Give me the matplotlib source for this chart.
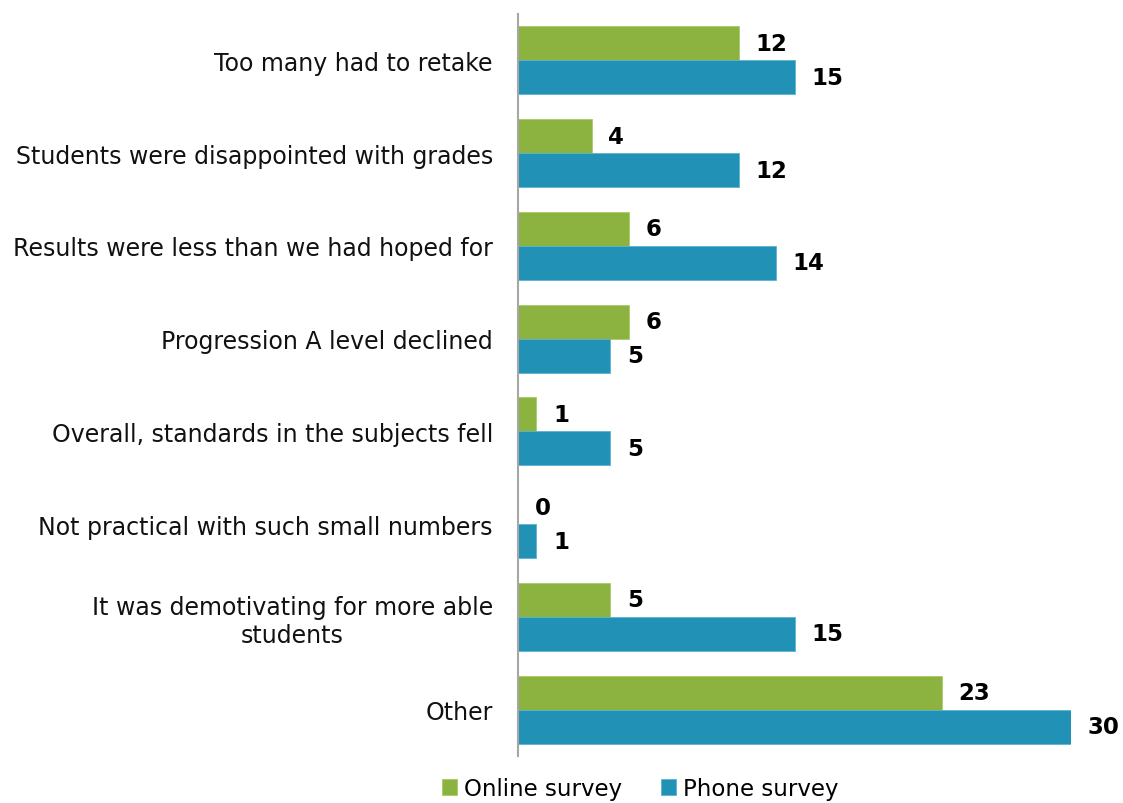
import matplotlib.pyplot as plt
import numpy as np

categories = [
    "Too many had to retake",
    "Students were disappointed with grades",
    "Results were less than we had hoped for",
    "Progression A level declined",
    "Overall, standards in the subjects fell",
    "Not practical with such small numbers",
    "It was demotivating for more able\nstudents",
    "Other",
]
online = [12, 4, 6, 6, 1, 0, 5, 23]
phone = [15, 12, 14, 5, 5, 1, 15, 30]

green = "#8cb23f"
blue = "#2192b5"

plt.rcParams['font.family'] = ['DejaVu Sans']

fig = plt.figure(figsize=(11.23, 8.04), dpi=100)
ax = fig.add_axes([518 / 1123, 47 / 804, (1071 - 518) / 1123, 742 / 804])

y = np.arange(len(categories))
h = 0.367
b1 = ax.barh(y - h / 2, online, height=h, color=green, edgecolor="#a9cc6a", linewidth=0.6)
b2 = ax.barh(y + h / 2, phone, height=h, color=blue, edgecolor="#5cb3d1", linewidth=0.6)

for bars, vals in ((b1, online), (b2, phone)):
    for bar, v in zip(bars, vals):
        ax.annotate(str(v), (v, bar.get_y() + bar.get_height() / 2),
                    xytext=(12, 0), textcoords="offset points",
                    ha="left", va="center", fontsize=16.5, fontweight="bold",
                    color="black", annotation_clip=False)

ax.set_xlim(0, 30)
ax.set_ylim(len(categories) - 0.5, -0.5)
ax.set_yticks(y)
ax.set_yticklabels(categories, fontsize=17, color="#111111")
ax.tick_params(axis="y", length=0, pad=18)
ax.set_xticks([])
for s in ("top", "right", "bottom"):
    ax.spines[s].set_visible(False)
ax.spines["left"].set_color("#a6a6a6")
ax.spines["left"].set_linewidth(1.5)

# wrapped label: second line centred under the first
for lab in ax.get_yticklabels():
    if "\n" in lab.get_text():
        lab.set_multialignment("center")

fig.legend([b1, b2], ["Online survey", "Phone survey"], loc="lower center",
           bbox_to_anchor=(0.57, -0.022), ncol=2, frameon=False, fontsize=16.5,
           handlelength=0.65, handleheight=0.65, handletextpad=0.3, columnspacing=1.7)

fig.savefig("out.png", dpi=100)
